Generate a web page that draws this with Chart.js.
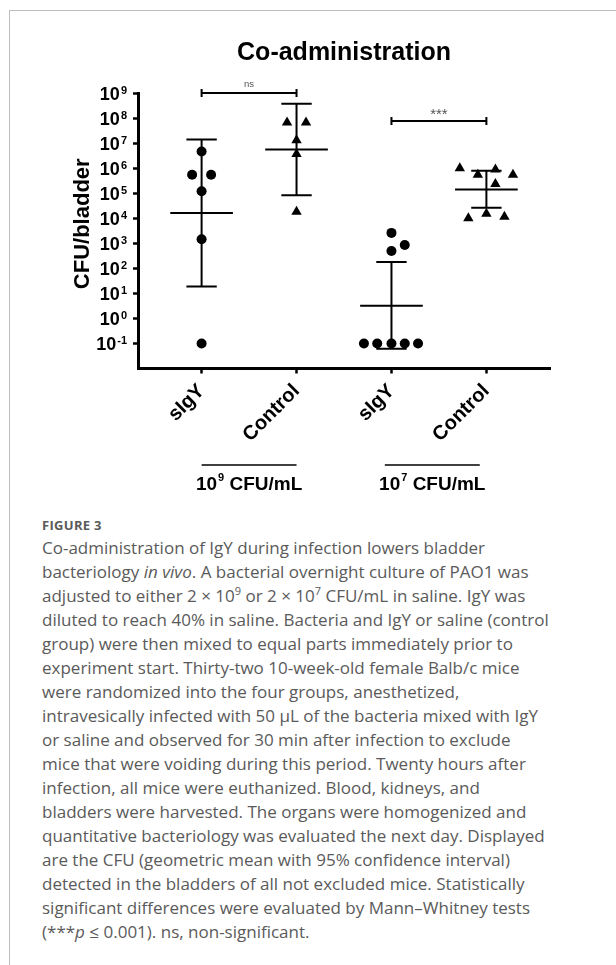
<!DOCTYPE html>
<html>
<head>
<meta charset="utf-8">
<script src="https://cdn.jsdelivr.net/npm/chart.js@4.4.0/dist/chart.umd.min.js"></script>
<style>
  html, body { margin: 0; padding: 0; background: #fff; }
  body { width: 616px; height: 965px; position: relative; overflow: hidden; }
  #frame { position: absolute; left: 9px; top: 10px; width: 700px; height: 1000px; border: 1px solid #bdbdbd; }
  #chart { position: absolute; left: 0; top: 0; }
  #caption { position: absolute; left: 42px; top: 517px; color: #5a5a5a; font-family: 'Open Sans', sans-serif; }
  .fig { font-size: 13px; font-weight: 700; letter-spacing: 0.3px; line-height: 16px; margin-bottom: 3px; }
  .line { font-size: 17px; line-height: 24px; white-space: nowrap; }
  .line sup { font-size: 11px; line-height: 0; }
</style>
</head>
<body>
<div id="frame"></div>
<canvas id="chart" width="616" height="500"></canvas>
<div id="caption">
  <div class="fig">FIGURE 3</div>
  <div class="line">Co-administration of IgY during infection lowers bladder</div>
  <div class="line">bacteriology <i>in vivo</i>. A bacterial overnight culture of PAO1 was</div>
  <div class="line">adjusted to either 2 &times; 10<sup>9</sup> or 2 &times; 10<sup>7</sup> CFU/mL in saline. IgY was</div>
  <div class="line">diluted to reach 40% in saline. Bacteria and IgY or saline (control</div>
  <div class="line">group) were then mixed to equal parts immediately prior to</div>
  <div class="line">experiment start. Thirty-two 10-week-old female Balb/c mice</div>
  <div class="line">were randomized into the four groups, anesthetized,</div>
  <div class="line">intravesically infected with 50 &mu;L of the bacteria mixed with IgY</div>
  <div class="line">or saline and observed for 30 min after infection to exclude</div>
  <div class="line">mice that were voiding during this period. Twenty hours after</div>
  <div class="line">infection, all mice were euthanized. Blood, kidneys, and</div>
  <div class="line">bladders were harvested. The organs were homogenized and</div>
  <div class="line">quantitative bacteriology was evaluated the next day. Displayed</div>
  <div class="line">are the CFU (geometric mean with 95% confidence interval)</div>
  <div class="line">detected in the bladders of all not excluded mice. Statistically</div>
  <div class="line">significant differences were evaluated by Mann&ndash;Whitney tests</div>
  <div class="line">(***<i>p</i> &le; 0.001). ns, non-significant.</div>
</div>
<script>
// Datos (CFU por vejiga)
const categories = ['sIgY', 'Control', 'sIgY', 'Control'];
const decades = [1e-1, 1e0, 1e1, 1e2, 1e3, 1e4, 1e5, 1e6, 1e7, 1e8, 1e9];

// 10^9 CFU/mL
const sIgY9 = [4.6e6, 5.4e5, 5.4e5, 1.2e5, 1.45e3, 0.1];
const sIgY9Jitter = [0, -0.1, 0.1, 0, 0, 0];
const control9 = [6.6e7, 6.6e7, 1.3e7, 3.7e6, 1.8e4];
const control9Jitter = [-0.1, 0.1, 0, 0, 0];
// 10^7 CFU/mL
const sIgY7 = [2.6e3, 8.5e2, 4.9e2, 0.1, 0.1, 0.1, 0.1, 0.1];
const sIgY7Jitter = [0, 0.14, 0, -0.29, -0.15, 0, 0.14, 0.28];
const control7 = [9.8e5, 5.4e5, 8.9e5, 5.4e5, 2.3e5, 1.0e4, 1.5e4, 1.15e4];
const control7Jitter = [-0.28, -0.09, 0.095, 0.28, 0.095, -0.19, 0, 0.19];

// Media geométrica e IC 95%
const geoMean = [1.6e4, 5.5e6, 3.2, 1.4e5];
const ciLow = [19, 8.3e4, 0.062, 2.6e4];
const ciHigh = [1.4e7, 3.7e8, 178, 7.9e5];

// Comparaciones
const sigPairs = [[0, 1], [2, 3]];
const sigLevels = [1e9, 7.6e7];
const sigText = ['ns', '***'];
const sigFont = ['9.5px', '15px'];

// Grupos de dosis
const doseExponents = ['9', '7'];
const doseSpans = [[0, 1], [1.93, 2.93]];
const yTitle = 'CFU/bladder';

const FONT = "'Liberation Sans', Arial, sans-serif";

function points(values, jitter, i) {
    return values.map((v, k) => ({ x: i + jitter[k], y: v }));
}

// Líneas de media y barras de error (con huecos entre segmentos)
let meanData = [];
let ciData = [];
geoMean.forEach((m, i) => {
    meanData.push({ x: i - 0.33, y: m }, { x: i + 0.33, y: m }, { x: i, y: null });
    ciData.push({ x: i, y: ciLow[i] }, { x: i, y: ciHigh[i] }, { x: i, y: null });
    ciData.push({ x: i - 0.16, y: ciLow[i] }, { x: i + 0.16, y: ciLow[i] }, { x: i, y: null });
    ciData.push({ x: i - 0.16, y: ciHigh[i] }, { x: i + 0.16, y: ciHigh[i] }, { x: i, y: null });
});

let bracketData = [];
sigPairs.forEach((p, k) => {
    const lv = sigLevels[k];
    bracketData.push({ x: p[0], y: lv }, { x: p[1], y: lv }, { x: p[0], y: null });
    bracketData.push({ x: p[0], y: lv / 1.45 }, { x: p[0], y: lv * 1.45 }, { x: p[0], y: null });
    bracketData.push({ x: p[1], y: lv / 1.45 }, { x: p[1], y: lv * 1.45 }, { x: p[0], y: null });
});

const lineSet = (data) => ({
    data: data, showLine: true, pointRadius: 0, borderColor: '#000',
    borderWidth: 2, spanGaps: false, clip: false
});
const pointSet = (data, style, r) => ({
    data: data, pointStyle: style, pointRadius: r, backgroundColor: '#000',
    borderWidth: 0, clip: false
});

// Textos que Chart.js no dibuja (superíndices, significación, dosis)
const figureText = {
    id: 'figureText',
    afterDraw(chart) {
        const { ctx, chartArea, scales: { x, y } } = chart;
        ctx.save();
        ctx.fillStyle = '#000';
        ctx.textBaseline = 'alphabetic';

        // Etiquetas del eje Y: 10^n
        ctx.textAlign = 'right';
        for (const v of decades) {
            const py = y.getPixelForValue(v);
            const exp = String(Math.round(Math.log10(v)));
            const right = chartArea.left - 11;
            ctx.font = 'bold 11px ' + FONT;
            const ew = ctx.measureText(exp).width;
            ctx.fillText(exp, right, py + 0.5);
            ctx.font = 'bold 18px ' + FONT;
            ctx.fillText('10', right - ew - 1, py + 6.5);
        }

        // Título del eje Y
        ctx.save();
        ctx.translate(82.5, (chartArea.top + chartArea.bottom) / 2 - 7);
        ctx.rotate(-Math.PI / 2);
        ctx.textAlign = 'center';
        ctx.textBaseline = 'middle';
        ctx.font = 'bold 22px ' + FONT;
        ctx.fillText(yTitle, 0, 0);
        ctx.restore();

        // Textos de significación
        ctx.textAlign = 'center';
        ctx.fillStyle = '#555';
        sigPairs.forEach((p, k) => {
            ctx.font = sigFont[k] + ' ' + FONT;
            const cx = (x.getPixelForValue(p[0]) + x.getPixelForValue(p[1])) / 2;
            const py = y.getPixelForValue(sigLevels[k]);
            const m = ctx.measureText(sigText[k]);
            ctx.fillText(sigText[k], cx, py - 9 + (m.actualBoundingBoxAscent - m.actualBoundingBoxDescent) / 2);
        });

        // Grupos de dosis bajo el eje X
        ctx.fillStyle = '#000';
        ctx.strokeStyle = '#000';
        ctx.lineWidth = 1.5;
        ctx.textAlign = 'left';
        doseExponents.forEach((e, k) => {
            const x0 = x.getPixelForValue(doseSpans[k][0]);
            const x1 = x.getPixelForValue(doseSpans[k][1]);
            const ly = chartArea.bottom + 96.5;
            ctx.beginPath();
            ctx.moveTo(x0, ly);
            ctx.lineTo(x1, ly);
            ctx.stroke();

            ctx.font = 'bold 19px ' + FONT;
            const w1 = ctx.measureText('10').width;
            const w3 = ctx.measureText(' CFU/mL').width;
            ctx.font = 'bold 11px ' + FONT;
            const w2 = ctx.measureText(e).width + 1;
            let sx = (x0 + x1) / 2 - (w1 + w2 + w3) / 2;
            const by = chartArea.bottom + 121.5;
            ctx.font = 'bold 19px ' + FONT;
            ctx.fillText('10', sx, by);
            ctx.font = 'bold 11px ' + FONT;
            ctx.fillText(e, sx + w1 + 1, by - 9);
            ctx.font = 'bold 19px ' + FONT;
            ctx.fillText(' CFU/mL', sx + w1 + w2, by);
        });
        ctx.restore();
    }
};

const ctx = document.getElementById('chart');

const chart = new Chart(ctx, {
    type: 'scatter',
    data: {
        datasets: [
            pointSet(points(sIgY9, sIgY9Jitter, 0), 'circle', 5),
            pointSet(points(control9, control9Jitter, 1), 'triangle', 6),
            pointSet(points(sIgY7, sIgY7Jitter, 2), 'circle', 5),
            pointSet(points(control7, control7Jitter, 3), 'triangle', 6),
            lineSet(meanData),
            lineSet(ciData),
            lineSet(bracketData)
        ]
    },
    options: {
        responsive: false,
        animation: false,
        devicePixelRatio: 1,
        layout: { padding: { left: 0, right: 66, top: 0, bottom: 0 } },
        plugins: {
            legend: { display: false },
            tooltip: { enabled: false },
            title: {
                display: true,
                text: 'Co-administration',
                fullSize: false,
                color: '#000',
                font: { family: FONT, size: 25, weight: 'bold' },
                padding: { top: 38.5, bottom: 24.5 }
            }
        },
        scales: {
            x: {
                type: 'linear',
                min: -0.67,
                max: 3.67,
                afterBuildTicks: (s) => { s.ticks = categories.map((c, i) => ({ value: i })); },
                afterFit: (s) => { s.height = 131.5; },
                ticks: {
                    callback: (v) => categories[v],
                    minRotation: 45,
                    maxRotation: 45,
                    autoSkip: false,
                    color: '#000',
                    padding: 6,
                    font: { family: FONT, size: 20, weight: 'bold' }
                },
                grid: { drawOnChartArea: false, drawTicks: true, tickLength: 5, tickWidth: 2.5, tickColor: '#000' },
                border: { color: '#000', width: 3 }
            },
            y: {
                type: 'logarithmic',
                min: 0.01,
                max: 1e9,
                afterBuildTicks: (s) => { s.ticks = decades.map(v => ({ value: v })); },
                afterFit: (s) => { s.width = 138; },
                ticks: { display: false },
                grid: { drawOnChartArea: false, drawTicks: true, tickLength: 5, tickWidth: 2.5, tickColor: '#000' },
                border: { color: '#000', width: 3 }
            }
        }
    },
    plugins: [figureText]
});
</script>
</body>
</html>
